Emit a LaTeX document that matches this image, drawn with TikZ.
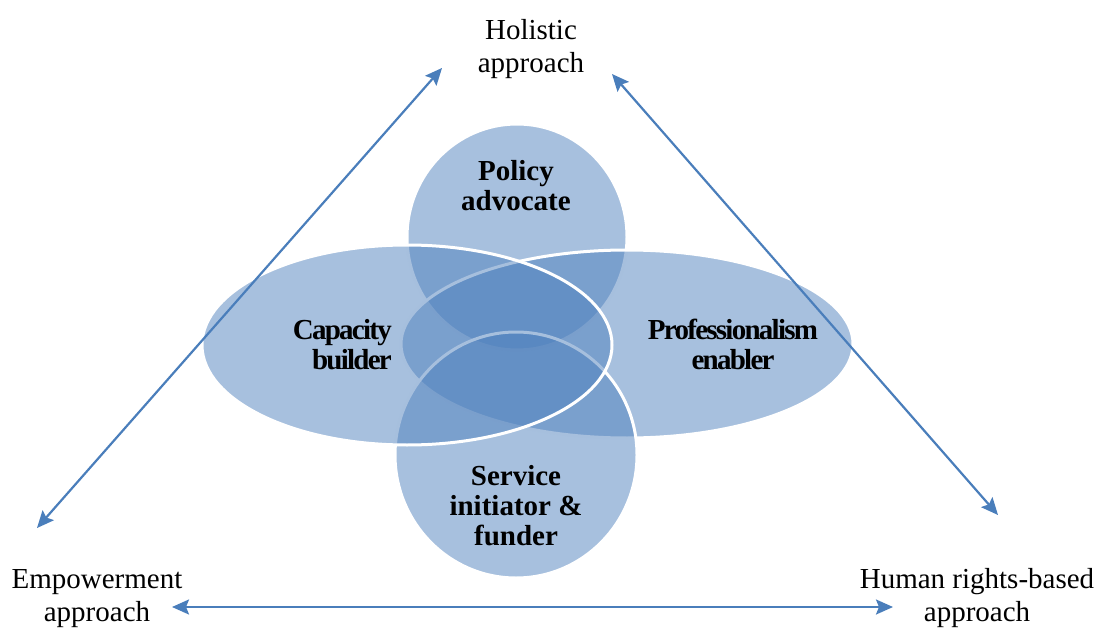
\documentclass[tikz,border=0pt]{standalone}
\usepackage{fontspec}
\setmainfont{Liberation Serif}
\usetikzlibrary{arrows.meta}
\definecolor{venn}{HTML}{4F81BD}
\definecolor{link}{HTML}{4A7EBB}
\begin{document}
\begin{tikzpicture}[x=1pt,y=-1pt,
  petal/.style={fill=venn,fill opacity=0.5,draw=white,draw opacity=1,line width=3pt},
  outer/.style={inner sep=0pt,anchor=base,align=center,font=\fontsize{29}{33}\selectfont},
  inner/.style={inner sep=0pt,anchor=base,align=center,font=\fontsize{29}{30}\selectfont\bfseries},
  narrow/.style={font=\fontsize{29}{30}\selectfont\bfseries\addfontfeatures{LetterSpace=-6}},
  link/.style={draw=link,line width=2.2pt,{Stealth[length=17pt,width=15pt,inset=3pt]}-{Stealth[length=17pt,width=15pt,inset=3pt]}}]
\useasboundingbox (0,0) rectangle (1097,628);

% overlapping role shapes, drawn back to front
\path[petal] (517,237) ellipse [x radius=110,y radius=113];
\path[petal] (627,344) ellipse [x radius=226,y radius=94];
\path[petal] (516,455) ellipse [x radius=121,y radius=123];
\path[petal] (407,345) ellipse [x radius=205,y radius=100];

% role labels (anchored on the baseline of the last line)
\node[inner] (policy) at (516,211) {Policy\\advocate};
\node[inner,narrow,align=right,anchor=base east] (capacity) at (392,369) {Capacity\\builder};
\node[inner,narrow] (prof) at (733,369) {Professionalism\\enabler};
\node[inner] (service) at (516,545) {Service\\initiator \&\\funder};

% approach labels
\node[outer] (holistic) at (531,73) {Holistic\\approach};
\node[outer] (empower) at (97,621) {Empowerment\\approach};
\node[outer] (rights) at (977,621) {Human rights-based\\approach};

% arrow end points around the approach labels
\coordinate (hL) at (442,68);
\coordinate (hR) at (612,74);
\coordinate (eU) at (37,528);
\coordinate (eR) at (172,607);
\coordinate (rU) at (998,515);
\coordinate (rL) at (893,607);

\draw[link] (eU) -- (hL);
\draw[link] (hR) -- (rU);
\draw[link] (eR) -- (rL);
\end{tikzpicture}
\end{document}
